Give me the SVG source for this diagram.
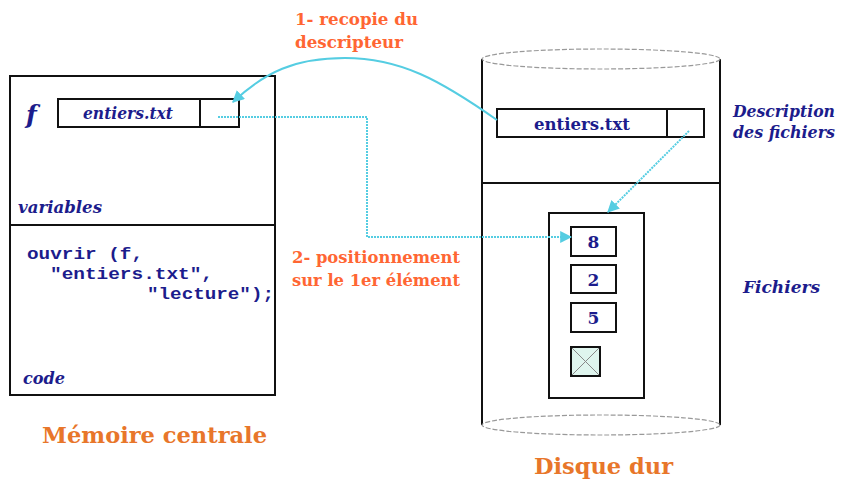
<svg xmlns="http://www.w3.org/2000/svg" width="844" height="484" viewBox="0 0 844 484">
<defs>
<style>
.box{fill:none;stroke:#111;stroke-width:2}
.lbl{font-family:'DejaVu Serif','Liberation Serif',serif;font-weight:bold;font-style:italic;fill:#1c1c8c}
.code{font-family:'Liberation Mono','DejaVu Sans Mono',monospace;font-weight:bold;fill:#1c1c8c;font-size:17px}
.num{font-family:'DejaVu Serif','Liberation Serif',serif;font-weight:bold;fill:#1c1c8c;font-size:17px}
.org{font-family:'DejaVu Serif','Liberation Serif',serif;font-weight:bold;fill:#ff6633;font-size:16px}
.title{font-family:'DejaVu Serif','Liberation Serif',serif;font-weight:bold;fill:#e8762a;font-size:23px}
.con{fill:none;stroke:#55cde2;stroke-width:2}
.dot{stroke-dasharray:2 1}
.ell{fill:none;stroke:#999;stroke-width:1.2;stroke-dasharray:5 2}
</style>
<marker id="ah" viewBox="0 0 10 10" refX="9" refY="5" markerWidth="6" markerHeight="6" orient="auto-start-reverse" markerUnits="strokeWidth">
<path d="M0,0 L10,5 L0,10 Z" fill="#55cde2"/>
</marker>
</defs>
<rect width="844" height="484" fill="#fff"/>

<g id="memoire">
<rect class="box" x="10" y="76" width="265" height="319"/>
<line class="box" x1="10" y1="225" x2="275" y2="225"/>
<text class="lbl" x="26" y="123" font-size="25">f</text>
<g id="var-f">
<rect class="box" x="58" y="99" width="181" height="28"/>
<line class="box" x1="200" y1="99" x2="200" y2="127"/>
<text class="lbl" x="128" y="119" font-size="16" text-anchor="middle" textLength="90" lengthAdjust="spacingAndGlyphs">entiers.txt</text>
</g>
<text class="lbl" x="18" y="213" font-size="16" textLength="84" lengthAdjust="spacingAndGlyphs">variables</text>
<text class="code" x="27" y="259" textLength="116" lengthAdjust="spacingAndGlyphs">ouvrir (f,</text>
<text class="code" x="50" y="279" textLength="163" lengthAdjust="spacingAndGlyphs">"entiers.txt",</text>
<text class="code" x="147" y="299" textLength="127" lengthAdjust="spacingAndGlyphs">"lecture");</text>
<text class="lbl" x="23" y="384" font-size="16" textLength="42" lengthAdjust="spacingAndGlyphs">code</text>
<text class="title" x="42" y="443" textLength="225" lengthAdjust="spacingAndGlyphs">Mémoire centrale</text>
</g>

<g id="disque">
<path class="box" d="M482,59 V425 M720,59 V425"/>
<ellipse class="ell" cx="601" cy="59" rx="119" ry="10"/>
<ellipse class="ell" cx="601" cy="425" rx="119" ry="10"/>
<line class="box" x1="482" y1="183" x2="720" y2="183"/>
<g id="descripteur">
<rect class="box" x="497" y="109" width="207" height="28"/>
<line class="box" x1="667" y1="109" x2="667" y2="137"/>
<text class="num" x="582" y="130" text-anchor="middle" font-size="17" textLength="96" lengthAdjust="spacingAndGlyphs">entiers.txt</text>
</g>
<g id="fichier">
<rect class="box" x="549" y="213" width="95" height="185"/>
<rect class="box" x="571" y="227" width="45" height="29"/>
<text class="num" x="593.5" y="248" text-anchor="middle">8</text>
<rect class="box" x="571" y="265" width="45" height="28"/>
<text class="num" x="593.5" y="286" text-anchor="middle">2</text>
<rect class="box" x="571" y="303" width="45" height="29"/>
<text class="num" x="593.5" y="324" text-anchor="middle">5</text>
<rect x="571" y="347" width="29" height="29" fill="#dff5ee" stroke="#111" stroke-width="2"/>
<path d="M572,348 L599,375 M599,348 L572,375" stroke="#888" stroke-width="1"/>
</g>
<text class="title" x="534" y="474" textLength="139" lengthAdjust="spacingAndGlyphs">Disque dur</text>
</g>

<g id="legendes">
<text class="lbl" x="733" y="117" font-size="16" textLength="102" lengthAdjust="spacingAndGlyphs">Description</text>
<text class="lbl" x="733" y="138" font-size="16" textLength="102" lengthAdjust="spacingAndGlyphs">des fichiers</text>
<text class="lbl" x="743" y="293" font-size="17" textLength="77" lengthAdjust="spacingAndGlyphs">Fichiers</text>
<text class="org" x="295" y="25" textLength="123" lengthAdjust="spacingAndGlyphs">1- recopie du</text>
<text class="org" x="295" y="48" textLength="108" lengthAdjust="spacingAndGlyphs">descripteur</text>
<text class="org" x="292" y="263" textLength="168" lengthAdjust="spacingAndGlyphs">2- positionnement</text>
<text class="org" x="292" y="286" textLength="168" lengthAdjust="spacingAndGlyphs">sur le 1er élément</text>
</g>

<g id="connecteurs">
<path class="con" d="M497,120 C440,80 400,58 345,58 C295,58 265,72 233,102" marker-end="url(#ah)"/>
<path class="con dot" d="M218,117 H367 V237 H571" marker-end="url(#ah)"/>
<path class="con dot" d="M689,131 L608,212" marker-end="url(#ah)"/>
</g>
</svg>
